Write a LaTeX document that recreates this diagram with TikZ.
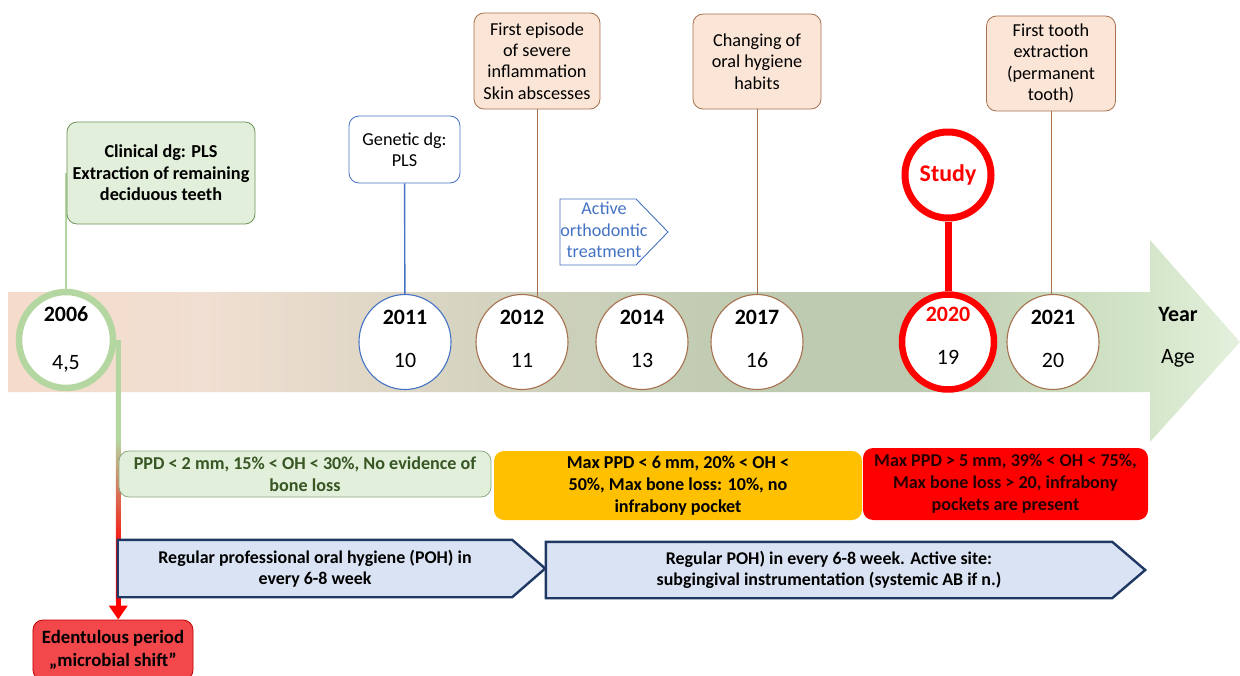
\documentclass[tikz,border=0pt]{standalone}
\usepackage{fontspec}
\setmainfont{Carlito}
\usetikzlibrary{shapes.geometric,calc,arrows.meta}
\pgfdeclarelayer{background}
\pgfsetlayers{background,main}

\definecolor{grnring}{HTML}{B4D6A0}
\definecolor{grnfill}{HTML}{E2EFDA}
\definecolor{grnedge}{HTML}{6F9558}
\definecolor{blu}{HTML}{4472C4}
\definecolor{brn}{HTML}{A6714F}
\definecolor{peach}{HTML}{FBE5D6}
\definecolor{navy}{HTML}{1F3864}
\definecolor{pohfill}{HTML}{DAE3F3}
\definecolor{orng}{HTML}{FFC000}
\definecolor{edfill}{HTML}{F2484B}
\definecolor{edline}{HTML}{C00000}
\definecolor{ppdtext}{HTML}{375623}
\definecolor{ppdedge}{HTML}{8EA982}
\definecolor{bandA}{HTML}{F5DBCB}
\definecolor{bandB}{HTML}{F0DFD2}
\definecolor{bandC}{HTML}{DDD6C5}
\definecolor{bandD}{HTML}{CDD1BB}
\definecolor{bandE}{HTML}{BFCBB1}
\definecolor{bandF}{HTML}{C9DABD}
\definecolor{bandG}{HTML}{D3E5C8}
\definecolor{bandH}{HTML}{E4F0DD}

\pgfdeclarehorizontalshading{bandshade}{100bp}{color(0bp)=(bandA); color(25bp)=(bandA);
  color(33bp)=(bandB); color(41bp)=(bandC); color(47bp)=(bandD); color(55bp)=(bandE);
  color(62bp)=(bandE); color(67bp)=(bandF); color(71bp)=(bandG); color(75bp)=(bandH); color(100bp)=(bandH)}
\pgfdeclareverticalshading{dropshade}{100bp}{color(0bp)=(red); color(34bp)=(red);
  color(56bp)=(grnring); color(100bp)=(grnring)}

\tikzset{
  event/.style={draw=brn, fill=peach, rounded corners=10bp, align=center, inner sep=0pt,
    line width=0.8bp, font=\fontsize{18.3}{21.5}\selectfont},
  yearcirc/.style={ellipse, fill=white, minimum width=92bp, minimum height=95bp,
    inner sep=0pt, line width=1.1bp},
  yeartxt/.style={inner sep=0pt, font=\fontsize{22}{24}\selectfont\bfseries},
  agetxt/.style={inner sep=0pt, font=\fontsize{22}{24}\selectfont},
  status/.style={rounded corners=10bp, align=center, inner sep=0pt,
    font=\fontsize{18.2}{22}\selectfont\bfseries},
  pohtxt/.style={align=center, inner sep=0pt, font=\fontsize{18}{21}\selectfont\bfseries},
  pohshape/.style={draw=navy, fill=pohfill, line width=2.4bp, line join=miter},
}

\begin{document}
\begin{tikzpicture}[x=1bp,y=-1bp,line cap=round,line join=round]
        \useasboundingbox (0,0) rectangle (1240,676);
        \clip (0,0) rectangle (1240,676);
        % events above the time line
        \node[event, draw=grnedge, fill=grnfill, font=\fontsize{18.3}{21.5}\selectfont\bfseries,
          minimum width=188bp, minimum height=102bp] (clin) at (161,173)
          {Clinical dg: PLS\\Extraction of remaining\\deciduous teeth};
        \node[event, draw=blu, fill=white, minimum width=111bp, minimum height=67bp] (gen) at (404.5,149.5)
          {Genetic dg:\\PLS};
        \node[event, minimum width=126bp, minimum height=96bp] (epis) at (537,61)
          {First episode\\of severe\\inflammation\\Skin abscesses};
        \node[event, minimum width=128bp, minimum height=95bp] (chg) at (757,61.5)
          {Changing of\\oral hygiene\\habits};
        \node[event, minimum width=129bp, minimum height=95bp] (ext) at (1051,63.5)
          {First tooth\\extraction\\(permanent\\tooth)};
        \node[circle, draw=red, line width=7bp, fill=white, minimum size=86bp, inner sep=0pt,
          text=red, font=\fontsize{24}{26}\selectfont\bfseries] (study) at (948,175) {Study};
        \node[inner sep=0pt, align=center, text=blu, font=\fontsize{18.2}{21.5}\selectfont] (ortho) at (604,230)
          {Active\\orthodontic\\treatment};
        % years and ages
        \node[yearcirc, draw=grnring, line width=6.5bp, minimum width=94bp, minimum height=96bp] (y2006) at (66,340) {};
        \node[yeartxt] at ($(y2006.center)+(0,-26)$) {2006};
        \node[agetxt] at ($(y2006.center)+(0,24)$) {4,5};
        \foreach \yr/\ag/\x/\col in {2011/10/405/blu,2012/11/522/brn,2014/13/642/brn,2017/16/757/brn,2021/20/1053/brn}
        {
          \node[yearcirc, draw=\col] (y\yr) at (\x,342) {};
          \node[yeartxt] at ($(y\yr.center)+(0,-25)$) {\yr};
          \node[agetxt] at ($(y\yr.center)+(0,18)$) {\ag};
        }
        \node[yearcirc, draw=red, line width=6.5bp] (y2020) at (948,342) {};
        \node[yeartxt, text=red] at ($(y2020.center)+(0,-28)$) {2020};
        \node[agetxt] at ($(y2020.center)+(0,15)$) {19};
        \node[yeartxt] (yrlab) at (1178,314) {Year};
        \node[agetxt] (agelab) at (1178,358) {Age};
        % periodontal status
        \node[status, draw=ppdedge, fill=grnfill, text=ppdtext, line width=0.8bp,
          minimum width=372bp, minimum height=46bp] (ppd) at (305,474)
          {PPD < 2 mm, 15\% < OH < 30\%, No evidence of\\bone loss};
        \node[status, fill=orng, minimum width=368bp, minimum height=69bp] (mid) at (678,485.5)
          {Max PPD < 6 mm, 20\% < OH <\\50\%, Max bone loss: 10\%, no\\infrabony pocket};
        \node[status, fill=red, text=black!85!red, minimum width=285bp, minimum height=72bp] (late) at (1005.5,484)
          {Max PPD > 5 mm, 39\% < OH < 75\%,\\Max bone loss > 20, infrabony\\pockets are present};
        % treatment
        \node[pohtxt, minimum width=394bp, minimum height=57bp] (poh1) at (315,568.5)
          {Regular professional oral hygiene (POH) in\\every 6-8 week};
        \node[pohtxt, minimum width=566bp, minimum height=56bp] (poh2) at (829,570)
          {Regular POH) in every 6-8 week. Active site:\\subgingival instrumentation (systemic AB if n.)};
        \node[status, draw=edline, fill=edfill, line width=0.8bp, font=\fontsize{18.8}{23}\selectfont\bfseries,
          minimum width=160bp, minimum height=60bp] (eden) at (113,650)
          {Edentulous period\\„microbial shift”};
        \begin{pgfonlayer}{background}
          \shade[shading=bandshade] (8,292) -- (1150,292) -- (1150,240) -- (1240,342) -- (1150,442) -- (1150,392) -- (8,392) -- cycle;
          \draw[grnring, line width=2bp] (y2006) -- (y2006 |- clin.center);
          \draw[blu, line width=1.4bp] (gen) -- (y2011);
          \draw[brn, line width=1bp] (epis.south) -- (epis.south |- y2012.center);
          \draw[brn, line width=1bp] (chg.south) -- (chg.south |- y2017.center);
          \draw[brn, line width=1bp] (ext.south) -- (ext.south |- y2021.center);
          \draw[red, line width=7bp] (study) -- (y2020);
          \shade[shading=dropshade] ($(y2006.east)+(-0.5,0)$) rectangle ($(eden.north -| y2006.east)+(4.5,-18)$);
          \draw[red, line width=5bp, line cap=butt, -{Triangle[width=18bp,length=14bp]}]
            ($(eden.north -| y2006.east)+(2,-20)$) -- ($(eden.north -| y2006.east)+(2,0)$);
          \filldraw[blu, fill=white, line width=0.9bp, line join=miter] ($(ortho.center)+(-44,-31)$)
            -- ++(76,0) -- ++(32,33) -- ++(-32,33) -- ++(-76,0) -- cycle;
          \filldraw[pohshape] (poh1.north west) -- (poh1.north east) -- ($(poh1.east)+(33,0)$)
            -- (poh1.south east) -- (poh1.south west) -- cycle;
          \filldraw[pohshape] (poh2.north west) -- (poh2.north east) -- ($(poh2.east)+(33,0)$)
            -- (poh2.south east) -- (poh2.south west) -- cycle;
        \end{pgfonlayer}
\end{tikzpicture}
\end{document}
